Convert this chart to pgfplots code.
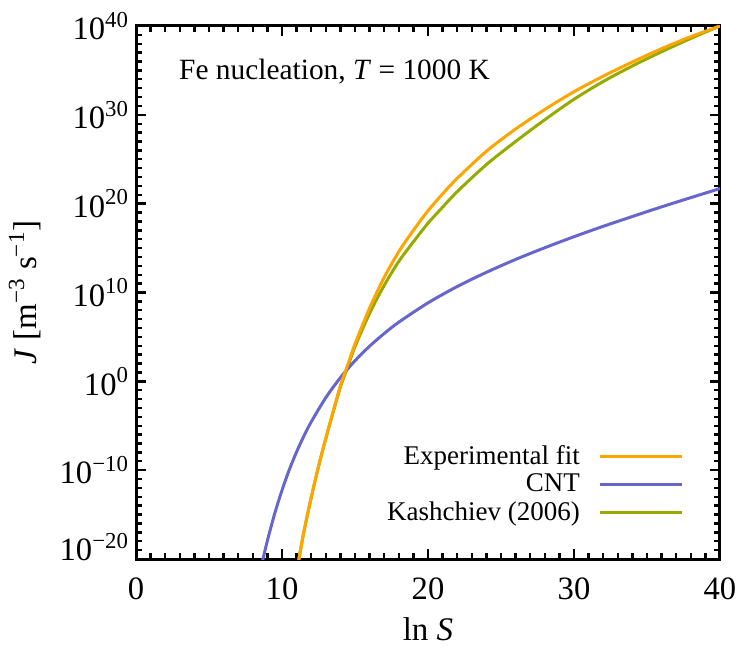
\documentclass[border=0pt]{standalone}
\usepackage{fontspec}
\setmainfont{Liberation Serif}
\usepackage{pgfplots}
\pgfplotsset{compat=1.18}
\definecolor{expfit}{RGB}{255,165,0}
\definecolor{cnt}{RGB}{102,102,204}
\definecolor{kash}{RGB}{150,170,0}

\begin{document}
\begin{tikzpicture}
\useasboundingbox (0,0) rectangle (373.5bp,330bp);
\begin{axis}[
    at={(68bp,50.5bp)}, anchor=south west,
    scale only axis, width=292bp, height=266.5bp,
    xmin=0, xmax=40, ymin=-20, ymax=40,
    xtick={0,10,20,30,40}, xticklabels={0,10,20,30,40},
    ytick={-20,-10,0,10,20,30,40},
    yticklabels={\raisebox{6bp}[\height][\depth]{10\textsuperscript{−20}},10\textsuperscript{−10},10\textsuperscript{0},10\textsuperscript{10},10\textsuperscript{20},10\textsuperscript{30},10\textsuperscript{40}},
    minor x tick num=9, minor y tick num=9,
    tick align=inside, tick pos=both, ticklabel pos=left,
    major tick length=5bp, minor tick length=3bp,
    every tick/.style={black, line width=1.2bp},
    axis line style={line width=1.5bp},
    tick label style={font=\fontsize{16.3bp}{19bp}\selectfont},
    xticklabel style={yshift=-6bp},
    label style={font=\fontsize{16.5bp}{19bp}\selectfont},
    xlabel={ln \textit{S}},
    ylabel={\textit{J} [m\textsuperscript{−3} s\textsuperscript{−1}]},
    xlabel style={at={(axis description cs:0.5,-0.152)}, anchor=base},
    ylabel style={at={(axis description cs:-0.19,0.5)}, anchor=center},
    legend style={draw=none, fill=none, at={(0.949,0.14)}, anchor=east,
        font=\fontsize{13.5bp}{15bp}\selectfont, row sep=0.5bp,
        nodes={inner sep=1.5bp}},
    legend cell align=right, legend plot pos=right,
    legend image code/.code={\path (0bp,0bp); \draw[#1, line width=1.5bp] (8bp,0bp) -- (49bp,0bp);},
    reverse legend,
]
% Kashchiev (2006), log10 J
\addplot[kash, line width=1.5bp, smooth] coordinates {
    (11.0,-21.46) (11.16,-20.0) (11.5,-16.93) (12,-13.1) (12.5,-9.6)
    (13,-6.45) (13.5,-3.5) (14,-0.65) (14.5,1.6) (15,3.9) (16,7.65)
    (17,10.8) (18,13.5) (19,15.7) (20,17.8) (21,19.6) (22,21.35)
    (24,24.4) (26,27.0) (28,29.45) (30,31.75) (32,33.75) (34,35.5)
    (36,37.1) (38,38.6) (40,40.0)
};
\addlegendentry{Kashchiev (2006)}
% CNT, log10 J
\addplot[cnt, line width=1.5bp, smooth] coordinates {
    (8.6,-20.7) (8.7,-19.99) (9,-17.93) (9.5,-14.89) (10,-12.26)
    (10.5,-9.95) (11,-7.94) (11.5,-6.16) (12,-4.57) (13,-1.84)
    (14,0.42) (15,2.32) (16,3.96) (17,5.38) (18,6.66) (20,8.83)
    (22,10.67) (24,12.27) (26,13.72) (28,15.04) (30,16.28) (32,17.45)
    (34,18.56) (36,19.64) (38,20.68) (40,21.70)
};
\addlegendentry{CNT}
% experimental fit, log10 J
\addplot[expfit, line width=1.5bp, smooth] coordinates {
    (11.0,-21.46) (11.16,-20.0) (11.5,-16.93) (12,-13.1) (12.5,-9.6)
    (13,-6.4) (13.5,-3.4) (14,-0.5) (14.5,1.85) (15,4.2) (16,8.25)
    (17,11.7) (18,14.6) (19,17.0) (20,19.2) (21,21.1) (22,22.85)
    (24,25.9) (26,28.4) (28,30.6) (30,32.6) (32,34.35) (34,35.95)
    (36,37.45) (38,38.8) (40,40.0)
};
\addlegendentry{Experimental fit}
\node[anchor=base west, font=\fontsize{14.7bp}{17bp}\selectfont]
    at (rel axis cs:0.062,0.899) {Fe nucleation, \textit{T} = 1000 K};
\end{axis}
\end{tikzpicture}
\end{document}
